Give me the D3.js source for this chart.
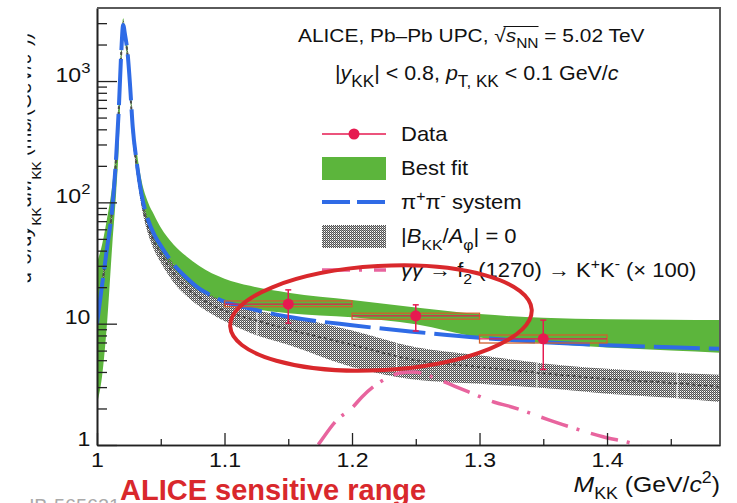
<!DOCTYPE html>
<html>
<head>
<meta charset="utf-8">
<script src="https://cdn.jsdelivr.net/npm/d3@7"></script>
<style>
  body { margin: 0; background: #fff; }
  svg { display: block; font-family: "Liberation Sans", Arial, sans-serif; }
</style>
</head>
<body>
<svg id="chart"></svg>
<script>
let width = 737;
let height = 503;

// mass grid shared by the fit curves (GeV/c^2)
let massGrid = [1.000, 1.004, 1.008, 1.012, 1.015, 1.017, 1.019, 1.0205, 1.022, 1.024, 1.026, 1.028,
  1.031, 1.035, 1.040, 1.045, 1.050, 1.060, 1.070, 1.080, 1.090, 1.100, 1.120, 1.150, 1.200,
  1.250, 1.300, 1.350, 1.400, 1.450, 1.490];

// pi+pi- system (blue dashed)
let pipiSystem = [10, 20.8, 43, 90, 235, 560, 1700, 2900, 2400, 1700, 900, 420, 220, 115, 72, 54, 44,
  31, 24, 19.5, 17, 15.2, 13.3, 11.4, 9.7, 8.55, 7.65, 7.05, 6.65, 6.4, 6.2];

// best fit band (green)
let bestFitHigh = [32, 45, 75, 140, 300, 700, 2000, 3300, 2700, 1900, 1050, 500, 270, 150, 100, 78, 62,
  45, 36, 30, 26, 23.5, 20.5, 18, 15.7, 13.6, 12.0, 11.2, 10.9, 10.8, 10.7];
let bestFitLow = [2.2, 3.7, 10.5, 45, 120, 280, 1200, 2600, 2100, 1450, 760, 360, 185, 100, 65, 48, 39,
  28, 22, 18.5, 16.5, 15, 13.4, 12.2, 11.3, 9.9, 7.7, 6.9, 6.35, 6.0, 5.75];

// |B_KK/A_phi| = 0 band (grey hatched) and its central dotted line
let noInterfHigh = [11.2, 23, 48, 100, 260, 620, 1900, 3200, 2600, 1800, 960, 440, 228, 118, 73, 54, 44,
  31, 24, 19.5, 17, 15.2, 13.2, 11.5, 8.8, 6.4, 5.5, 4.7, 4.25, 3.95, 3.78];
let noInterfLow = [8.5, 17.7, 36, 77, 200, 480, 1450, 2500, 2150, 1500, 780, 350, 180, 92, 55, 40, 32,
  22, 17, 14, 12, 10.5, 8.4, 6.7, 4.4, 3.45, 3.2, 2.95, 2.65, 2.45, 2.26];
let noInterfMid = [10, 20.8, 43, 90, 235, 560, 1700, 2950, 2350, 1620, 850, 390, 200, 104, 63, 47, 38,
  26, 20, 16.5, 14.3, 12.8, 11.0, 9.0, 6.7, 5.0, 4.4, 3.9, 3.5, 3.25, 3.0];
let bandGaps = [1.1255, 1.235, 1.345, 1.455];

// gamma gamma -> f2(1270) -> K+K- (x 100)
let f2Mass = [1.150, 1.1733, 1.1882, 1.200, 1.2078, 1.2275, 1.2376, 1.2478, 1.269, 1.279, 1.291,
  1.3137, 1.3224, 1.3537, 1.3647, 1.3969, 1.4235, 1.450];
let f2Values = [0.45, 1.0, 1.61, 2.02, 2.49, 3.57, 3.92, 4.0, 3.43, 3.1, 2.75, 2.22, 2.1, 1.62, 1.48,
  1.17, 1.0, 0.75];

// data
let dataMass = [1.15, 1.25, 1.35];
let dataValue = [14.5, 11.6, 7.5];
let statLow = [10.1, 8.7, 4.2];
let statHigh = [19, 14.3, 10.7];
let sysLow = [13.8, 10.9, 6.93];
let sysHigh = [15.4, 12.2, 8.07];
let binLow = [1.1, 1.2, 1.3];
let binHigh = [1.2, 1.3, 1.4];

let xMajor = [1, 1.1, 1.2, 1.3, 1.4];
let xMinor = [1.05, 1.15, 1.25, 1.35, 1.45];
let yMajor = [1, 10, 100, 1000];
let yMinor = [2, 3, 4, 5, 6, 7, 8, 9, 20, 30, 40, 50, 60, 70, 80, 90, 200, 300, 400, 500, 600, 700, 800, 900, 2000, 3000];

let green = "#5cb53c";
let blue = "#2f6be6";
let pink = "#e8649e";
let crimson = "#e61a50";
let alertRed = "#d9282c";

let plotL = 97, plotR = 720, plotT = 8, plotB = 445;
let stretch = 1.1; // the original picture is a little wider than tall

let svg = d3.select("#chart").attr("width", width).attr("height", height);
svg.append("rect").attr("width", width).attr("height", height).attr("fill", "#fff");

let xScale = d3.scaleLinear().domain([1, 1.4886]).range([plotL, plotR]);
let yScale = d3.scaleLog().domain([1, 4000]).range([plotB, plotT]);

let defs = svg.append("defs");
defs.append("clipPath").attr("id", "plotClip")
  .append("rect").attr("x", plotL).attr("y", plotT).attr("width", plotR - plotL).attr("height", plotB - plotT);
let hatch = defs.append("pattern").attr("id", "hatch")
  .attr("width", 2).attr("height", 2).attr("patternUnits", "userSpaceOnUse");
hatch.append("rect").attr("x", 0).attr("y", 0).attr("width", 1).attr("height", 1).attr("fill", "#505050");
hatch.append("rect").attr("x", 1).attr("y", 1).attr("width", 1).attr("height", 1).attr("fill", "#505050");
hatch.append("rect").attr("x", 1).attr("y", 0).attr("width", 1).attr("height", 1).attr("fill", "#a0a0a0");
defs.append("clipPath").attr("id", "labelClip")
  .append("rect").attr("x", 27.5).attr("y", 0).attr("width", 40).attr("height", height);
defs.append("clipPath").attr("id", "markClip")
  .append("rect").attr("x", 26).attr("y", 480).attr("width", 120).attr("height", 30);

// rich text helper: parts {t, sub, sup, it}
let rich = (sel, parts, fs, opt) => {
  opt = opt || {};
  let subShift = opt.subShift || 0.32, small = opt.small || 0.68;
  let shift = 0;
  parts.forEach((p) => {
    let target = p.sub ? fs * subShift : p.sup ? -fs * 0.42 : 0;
    let ts = sel.append("tspan").text(p.t).attr("dy", target - shift);
    shift = target;
    if (p.sub || p.sup) ts.attr("font-size", fs * small);
    if (p.it) ts.attr("font-style", "italic");
  });
};

let textAt = (x, y, fs, anchor, parent) =>
  (parent || svg).append("g").attr("transform", "translate(" + x + "," + y + ") scale(" + stretch + ",1)")
    .append("text").attr("font-size", fs).attr("text-anchor", anchor || "start").attr("fill", "#111");

let line = d3.line().x((d) => xScale(d[0])).y((d) => yScale(d[1])).curve(d3.curveMonotoneX);
let area = d3.area().x((d) => xScale(d[0])).y0((d) => yScale(d[1])).y1((d) => yScale(d[2]))
  .curve(d3.curveMonotoneX);

let plot = svg.append("g").attr("clip-path", "url(#plotClip)");

// best fit band
plot.append("path")
  .datum(massGrid.map((m, i) => [m, bestFitLow[i], bestFitHigh[i]]))
  .attr("d", area).attr("fill", green);

// no interference band
plot.append("path")
  .datum(massGrid.map((m, i) => [m, noInterfLow[i], noInterfHigh[i]]))
  .attr("d", area).attr("fill", "url(#hatch)");

let logInterp = (arr, m) => {
  let i = d3.bisectRight(massGrid, m) - 1;
  i = Math.max(0, Math.min(massGrid.length - 2, i));
  let t = (m - massGrid[i]) / (massGrid[i + 1] - massGrid[i]);
  return Math.exp(Math.log(arr[i]) * (1 - t) + Math.log(arr[i + 1]) * t);
};
plot.selectAll(".gap").data(bandGaps).enter().append("line")
  .attr("x1", (d) => xScale(d)).attr("x2", (d) => xScale(d))
  .attr("y1", (d) => yScale(logInterp(noInterfLow, d)))
  .attr("y2", (d) => yScale(logInterp(noInterfHigh, d)))
  .attr("stroke", "#fff").attr("stroke-width", 1.2);

plot.append("path")
  .datum(massGrid.map((m, i) => [m, noInterfMid[i]]))
  .attr("d", line).attr("fill", "none").attr("stroke", "#4a4a4a")
  .attr("stroke-width", 2).attr("stroke-dasharray", "3 3");

// pi pi system
plot.append("path")
  .datum(massGrid.map((m, i) => [m, pipiSystem[i]]))
  .attr("d", line).attr("fill", "none").attr("stroke", blue)
  .attr("stroke-width", 4).attr("stroke-dasharray", "46 9");

// f2 contribution
plot.append("path")
  .datum(f2Mass.map((m, i) => [m, f2Values[i]]))
  .attr("d", line).attr("fill", "none").attr("stroke", pink)
  .attr("stroke-width", 3.5).attr("stroke-dasharray", "28 9 3 12");

// data points
let pts = dataMass.map((m, i) => ({ m, v: dataValue[i], lo: statLow[i], hi: statHigh[i],
  sl: sysLow[i], sh: sysHigh[i], b0: binLow[i], b1: binHigh[i] }));
let dataG = plot.append("g");
dataG.selectAll(".sys").data(pts).enter().append("rect")
  .attr("x", (d) => xScale(d.b0)).attr("width", (d) => xScale(d.b1) - xScale(d.b0))
  .attr("y", (d) => yScale(d.sh)).attr("height", (d) => yScale(d.sl) - yScale(d.sh))
  .attr("fill", "none").attr("stroke", "#d0602e").attr("stroke-width", 1.3);
dataG.selectAll(".xerr").data(pts).enter().append("line")
  .attr("x1", (d) => xScale(d.b0)).attr("x2", (d) => xScale(d.b1))
  .attr("y1", (d) => yScale(d.v)).attr("y2", (d) => yScale(d.v))
  .attr("stroke", crimson).attr("stroke-width", 1.2);
dataG.selectAll(".yerr").data(pts).enter().append("line")
  .attr("x1", (d) => xScale(d.m)).attr("x2", (d) => xScale(d.m))
  .attr("y1", (d) => yScale(d.lo)).attr("y2", (d) => yScale(d.hi))
  .attr("stroke", crimson).attr("stroke-width", 1.5);
["lo", "hi"].forEach((k) => {
  dataG.selectAll(".cap" + k).data(pts).enter().append("line")
    .attr("x1", (d) => xScale(d.m) - 3).attr("x2", (d) => xScale(d.m) + 3)
    .attr("y1", (d) => yScale(d[k])).attr("y2", (d) => yScale(d[k]))
    .attr("stroke", crimson).attr("stroke-width", 1.5);
});
dataG.selectAll(".dot").data(pts).enter().append("circle")
  .attr("cx", (d) => xScale(d.m)).attr("cy", (d) => yScale(d.v)).attr("r", 5.5)
  .attr("fill", crimson);

// axes
let tickFont = 21;
let yAxisMajor = d3.axisLeft(yScale).tickValues(yMajor).tickSize(-20).tickSizeOuter(0).tickPadding(6)
  .tickFormat((d) => d);
let yG = svg.append("g").attr("transform", "translate(" + plotL + ",0)").call(yAxisMajor);
yG.selectAll("text").each(function (d) {
  let t = d3.select(this).text("");
  if (d === 1 || d === 10) rich(t, [{ t: String(d) }], tickFont);
  else rich(t, [{ t: "10" }, { t: String(Math.round(Math.log10(d))), sup: true }], tickFont, { small: 0.72 });
});
svg.append("g").attr("transform", "translate(" + plotL + ",0)")
  .call(d3.axisLeft(yScale).tickValues(yMinor).tickSize(-10).tickSizeOuter(0).tickFormat(""));

let xG = svg.append("g").attr("transform", "translate(0," + plotB + ")")
  .call(d3.axisBottom(xScale).tickValues(xMajor).tickSize(-12).tickSizeOuter(0).tickPadding(7)
    .tickFormat((d) => (d === 1 ? "1" : d3.format(".1f")(d))));
svg.append("g").attr("transform", "translate(0," + plotB + ")")
  .call(d3.axisBottom(xScale).tickValues(xMinor).tickSize(-6).tickSizeOuter(0).tickFormat(""));

svg.selectAll(".tick line").attr("stroke", "#222").attr("stroke-width", 1.3);
svg.selectAll(".domain").attr("stroke", "#222").attr("stroke-width", 1.6);
svg.selectAll(".tick text").attr("font-size", tickFont).attr("fill", "#111")
  .attr("font-family", "Liberation Sans, Arial, sans-serif")
  .attr("transform", "scale(" + stretch + ",1)");

// frame top / right
svg.append("path")
  .attr("d", "M" + plotL + "," + plotT + "H" + plotR + "V" + plotB)
  .attr("fill", "none").attr("stroke", "#5a5a5a").attr("stroke-width", 2);

// axis titles
let xt = textAt(plotR, 492, 22.5, "end");
rich(xt, [{ t: "M", it: true }, { t: "KK", sub: true }, { t: " (GeV/" }, { t: "c", it: true },
  { t: "2", sup: true }, { t: ")" }], 22.5, { small: 0.72 });

let yt = svg.append("g").attr("clip-path", "url(#labelClip)")
  .append("text").attr("transform", "translate(31,158) rotate(-90)").attr("text-anchor", "middle")
  .attr("font-size", 20).attr("fill", "#111");
rich(yt, [{ t: "d" }, { t: "2", sup: true }, { t: "σ/d" }, { t: "y", it: true }, { t: "KK", sub: true },
  { t: "d" }, { t: "M", it: true }, { t: "KK", sub: true }, { t: " (mb/(GeV/" }, { t: "c", it: true },
  { t: "2", sup: true }, { t: "))" }], 20, { subShift: 0.5 });

// header
let h1 = textAt(298, 42, 19);
rich(h1, [{ t: "ALICE, Pb–Pb UPC, √" }, { t: "s", it: true }, { t: "NN", sub: true },
  { t: " = 5.02 TeV" }], 19, { small: 0.74 });
// bar over s_NN
let rootBox = h1.node().getExtentOfChar(18);
let nnBox = h1.node().getExtentOfChar(21);
d3.select(h1.node().parentNode).append("line")
  .attr("x1", rootBox.x + rootBox.width * 0.8).attr("x2", nnBox.x + nnBox.width)
  .attr("y1", rootBox.y + 1.5).attr("y2", rootBox.y + 1.5)
  .attr("stroke", "#111").attr("stroke-width", 1);

let h2 = textAt(335, 80, 19.5);
rich(h2, [{ t: "|" }, { t: "y", it: true }, { t: "KK", sub: true }, { t: "| < 0.8, " },
  { t: "p", it: true }, { t: "T, KK", sub: true }, { t: " < 0.1 GeV/" }, { t: "c", it: true }], 19.5,
  { small: 0.8, subShift: 0.36 });

// legend
let legX0 = 322, legX1 = 386, legText = 401, legY = 134, legStep = 34, legFont = 20;
let legendLabels = [
  [{ t: "Data" }],
  [{ t: "Best fit" }],
  [{ t: "π" }, { t: "+", sup: true }, { t: "π" }, { t: "-", sup: true }, { t: " system" }],
  [{ t: "|" }, { t: "B", it: true }, { t: "KK", sub: true }, { t: "/" }, { t: "A", it: true },
    { t: "φ", sub: true }, { t: "| = 0" }],
  [{ t: "γγ", it: true }, { t: " → f" }, { t: "2", sub: true }, { t: " (1270) → K" }, { t: "+", sup: true },
    { t: "K" }, { t: "-", sup: true }, { t: " (× 100)" }]
];
legendLabels.forEach((parts, i) => {
  let t = textAt(legText, legY + i * legStep + 7, legFont);
  rich(t, parts, legFont, { small: 0.72, subShift: 0.36 });
});
let leg = svg.append("g");
leg.append("line").attr("x1", legX0).attr("x2", legX1).attr("y1", legY).attr("y2", legY)
  .attr("stroke", crimson).attr("stroke-width", 1.3);
leg.append("circle").attr("cx", (legX0 + legX1) / 2).attr("cy", legY).attr("r", 5.5).attr("fill", crimson);
leg.append("rect").attr("x", legX0).attr("y", legY + legStep - 11).attr("width", legX1 - legX0)
  .attr("height", 23).attr("fill", green);
leg.append("line").attr("x1", legX0).attr("x2", legX1).attr("y1", legY + 2 * legStep).attr("y2", legY + 2 * legStep)
  .attr("stroke", blue).attr("stroke-width", 4).attr("stroke-dasharray", "28 7");
leg.append("rect").attr("x", legX0).attr("y", legY + 3 * legStep - 11).attr("width", legX1 - legX0)
  .attr("height", 23).attr("fill", "url(#hatch)");
leg.append("line").attr("x1", legX0).attr("x2", legX1).attr("y1", legY + 4 * legStep).attr("y2", legY + 4 * legStep)
  .attr("stroke", pink).attr("stroke-width", 3.5).attr("stroke-dasharray", "28 9 3 12");

// annotation: sensitive range ellipse
svg.append("ellipse")
  .attr("transform", "translate(" + xScale(1.2227) + "," + yScale(11.13) + ") rotate(-3.2)")
  .attr("rx", 151).attr("ry", 52)
  .attr("fill", "none").attr("stroke", alertRed).attr("stroke-width", 4);

let markG = svg.append("g").attr("clip-path", "url(#markClip)");
textAt(120, 512, 18, "end", markG).attr("fill", "#aaa").text("ALI-PUB-565621");
svg.append("text").attr("x", 120).attr("y", 500).attr("font-size", 29).attr("font-weight", "bold")
  .attr("fill", alertRed).text("ALICE sensitive range");
</script>
</body>
</html>
